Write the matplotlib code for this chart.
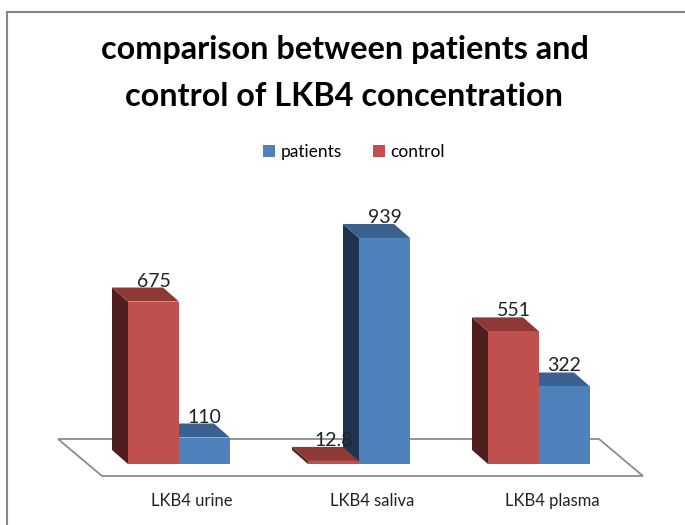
import matplotlib
matplotlib.use('Agg')
import matplotlib.pyplot as plt
from matplotlib.patches import Polygon, Rectangle

# ---- data ----
categories = ['LKB4 urine', 'LKB4 saliva', 'LKB4 plasma']
series_names = ['patients', 'control']
patients = [110, 939, 322]
control = [675, 12.8, 551]
title_lines = ['comparison between patients and', 'control of LKB4 concentration']

# ---- style ----
FONT = 'Lato'
W, H = 685, 525
RED = '#C0504D'; RED_SIDE = '#4F1E1E'; RED_TOP = '#8F3936'
BLUE = '#4F81BD'; BLUE_SIDE = '#1F3350'; BLUE_TOP = '#3B6191'
GRID_GRAY = '#8C8C8C'

fig = plt.figure(figsize=(W / 100, H / 100), dpi=100)
ax = fig.add_axes([0, 0, 1, 1])
PX_X = 180.0      # pixels per category
PX_Y = 0.2407     # pixels per value unit
X0, Y0 = 179, 464 # pixel position of category 0 / value 0
ax.set_xlim(-X0 / PX_X, (W - X0) / PX_X)
ax.set_ylim(-(H - Y0) / PX_Y, Y0 / PX_Y)
ax.axis('off')

DX = -16 / PX_X
DY = 14 / PX_Y
BW = 51 / PX_X

# floor
n = len(categories)
fl_l, fl_r = -0.5 + 13 / PX_X, n - 1 + 0.5 + 14 / PX_X
fl_y = -12 / PX_Y
fdx, fdy = -44 / PX_X, 37 / PX_Y
ax.add_patch(Polygon([(fl_l, fl_y), (fl_r, fl_y), (fl_r + fdx, fl_y + fdy), (fl_l + fdx, fl_y + fdy)],
                     closed=True, fc='white', ec=GRID_GRAY, lw=1.3, zorder=1))

def bar3d(xl, h, front, side, top):
    ax.add_patch(Polygon([(xl + DX, DY), (xl, 0), (xl, h), (xl + DX, h + DY)], closed=True,
                         fc=side, ec='none', zorder=2))
    ax.add_patch(Polygon([(xl, h), (xl + BW, h), (xl + BW + DX, h + DY), (xl + DX, h + DY)], closed=True,
                         fc=top, ec='none', zorder=2))
    ax.bar(xl, h, BW, align='edge', color=front, zorder=2)

for i in range(n):
    bar3d(i, patients[i], BLUE, BLUE_SIDE, BLUE_TOP)
    bar3d(i - BW, control[i], RED, RED_SIDE, RED_TOP)
    for xl, v in ((i - BW, control[i]), (i, patients[i])):
        ax.text(xl + BW / 2, v + DY + 1 / PX_Y, '%g' % v, ha='center', va='baseline',
                fontsize=14, family=FONT, color='#222222', zorder=5)
    ax.text(i + 13 / PX_X, -37 / PX_Y, categories[i], ha='center', va='center',
            fontsize=12, family=FONT, color='#222222')

# title
fig.text(345 / W, 1 - 49 / H, title_lines[0], ha='center', va='center',
         fontsize=23.3, fontweight='bold', family=FONT)
fig.text(344 / W, 1 - 97 / H, title_lines[1], ha='center', va='center',
         fontsize=23.3, fontweight='bold', family=FONT)

# legend
handles = [Rectangle((0, 0), 1, 1, fc=BLUE), Rectangle((0, 0), 1, 1, fc=RED)]
fig.legend(handles, series_names, loc='center', bbox_to_anchor=(354 / W, 1 - 152 / H), ncol=2,
           frameon=False, handlelength=0.7, handleheight=0.7, handletextpad=0.3, columnspacing=1.8,
           prop={'family': FONT, 'size': 12.5})

# outer border (partly cropped)
fig.add_artist(Rectangle((7 / W, -0.1), 1.2, 1 - 12 / H + 0.1, transform=fig.transFigure,
                         fc='none', ec='#868686', lw=1.5))

fig.savefig('out.png', dpi=100)
